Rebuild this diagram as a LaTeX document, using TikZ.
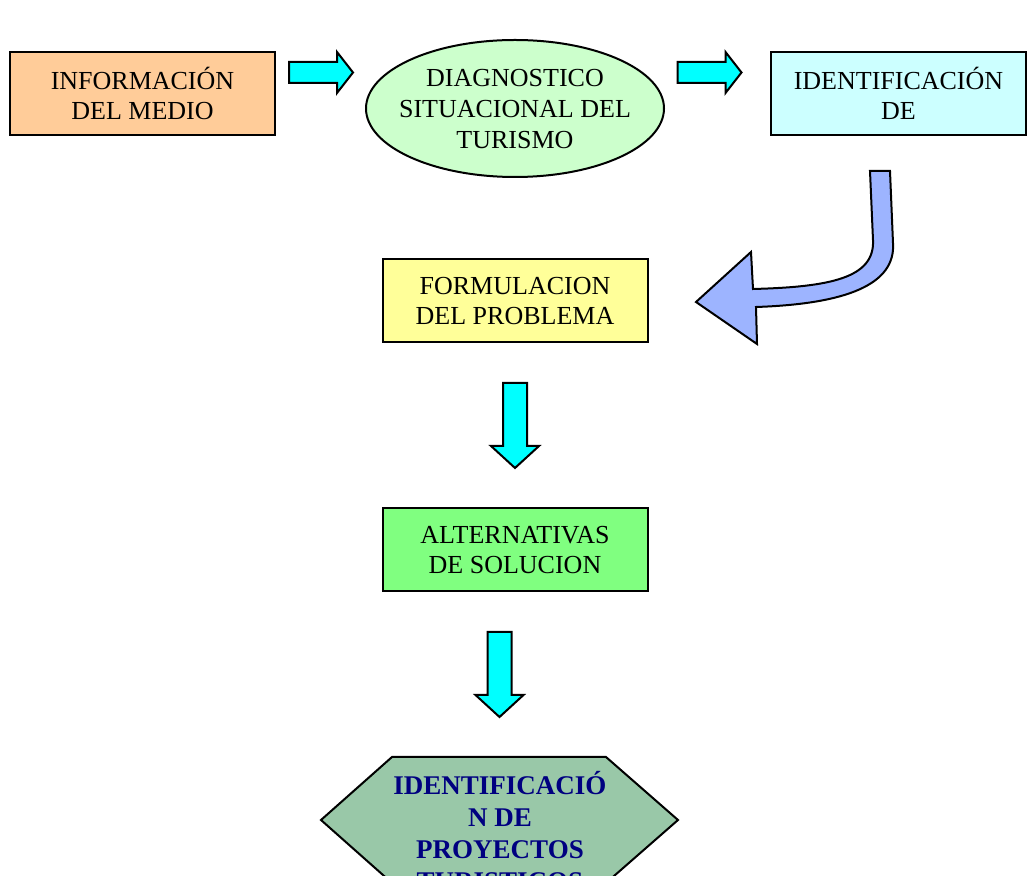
\documentclass[tikz,border=0pt]{standalone}
\usepackage{fontspec}
\setmainfont{Liberation Serif}
\usetikzlibrary{positioning}
\definecolor{medioOrange}{HTML}{FFCC99}
\definecolor{diagGreen}{HTML}{CCFFCC}
\definecolor{identCyan}{HTML}{CCFFFF}
\definecolor{formYellow}{HTML}{FFFF99}
\definecolor{altGreen}{HTML}{80FF80}
\definecolor{proyGreen}{HTML}{99C8A8}
\definecolor{proyNavy}{HTML}{000080}
\definecolor{flechaCyan}{HTML}{00FFFF}
\definecolor{curvaBlue}{HTML}{9DB4FF}

\begin{document}
\begin{tikzpicture}[x=0.5pt, y=-0.5pt,
    caja/.style={rectangle, draw=black, line width=1pt, fill=#1,
                 minimum width=132.5pt, minimum height=41.5pt, inner sep=0pt,
                 font=\fontsize{13}{15}\selectfont, align=center},
    texto/.style={font=\fontsize{13}{15.5}\selectfont, align=center, inner sep=0pt},
    flecha/.style={draw=black, line width=1pt, fill=flechaCyan, line join=miter},
    derecha/.pic={\path[flecha] (-32,-10.5) -- (16,-10.5) -- (16,-20.5) -- (32,0)
                   -- (16,20.5) -- (16,10.5) -- (-32,10.5) -- cycle;},
    abajo/.pic={\path[flecha] (-12,0) -- (-12,63) -- (-24,63) -- (0,85)
                 -- (24,63) -- (12,63) -- (12,0) -- cycle;},
  ]
    \useasboundingbox (0,0) rectangle (1029,876);
    \clip (0,0) rectangle (1029,876);

    % fila superior
    \node[caja=medioOrange] (medio) at (142.5,93.5) {INFORMACIÓN\\DEL MEDIO};
    \path[draw=black, line width=1pt, fill=diagGreen]
      (515,108.5) ellipse [x radius=149, y radius=68.5];
    \node[texto] (diag) at (515,109) {DIAGNOSTICO\\SITUACIONAL DEL\\TURISMO};
    \node[caja=identCyan, minimum width=127.5pt] (ident) at (898.5,93.5)
      {IDENTIFICACIÓN\\DE};
    \pic at (321,72.5) {derecha};
    \pic at (709.5,72.5) {derecha};

    % flecha curva
    \path[draw=black, line width=1pt, fill=curvaBlue, line join=miter]
      (870,171) -- (873,240) .. controls (875,278) and (830,287) .. (753,289)
      -- (751,252) -- (696,302) -- (757,344) -- (756,307)
      .. controls (845,304) and (896,285) .. (893,243) -- (890,171) -- cycle;

    % columna central
    \node[caja=formYellow] (form) at (515,301) {FORMULACION\\DEL PROBLEMA};
    \pic at (515,383) {abajo};
    \node[caja=altGreen] (alt) at (515,550) {ALTERNATIVAS\\DE SOLUCION};
    \pic at (499.5,632) {abajo};

    % proyectos
    \path[draw=black, line width=1pt, fill=proyGreen]
      (392,757) -- (606,757) -- (678,820) -- (606,883) -- (392,883)
      -- (321,820) -- cycle;
    \node[font=\fontsize{13.5}{16}\selectfont\bfseries, text=proyNavy,
          align=center, inner sep=0pt] (proy) at (500,831)
      {IDENTIFICACIÓ\\N DE\\PROYECTOS\\TURISTICOS};
  \end{tikzpicture}
\end{document}
